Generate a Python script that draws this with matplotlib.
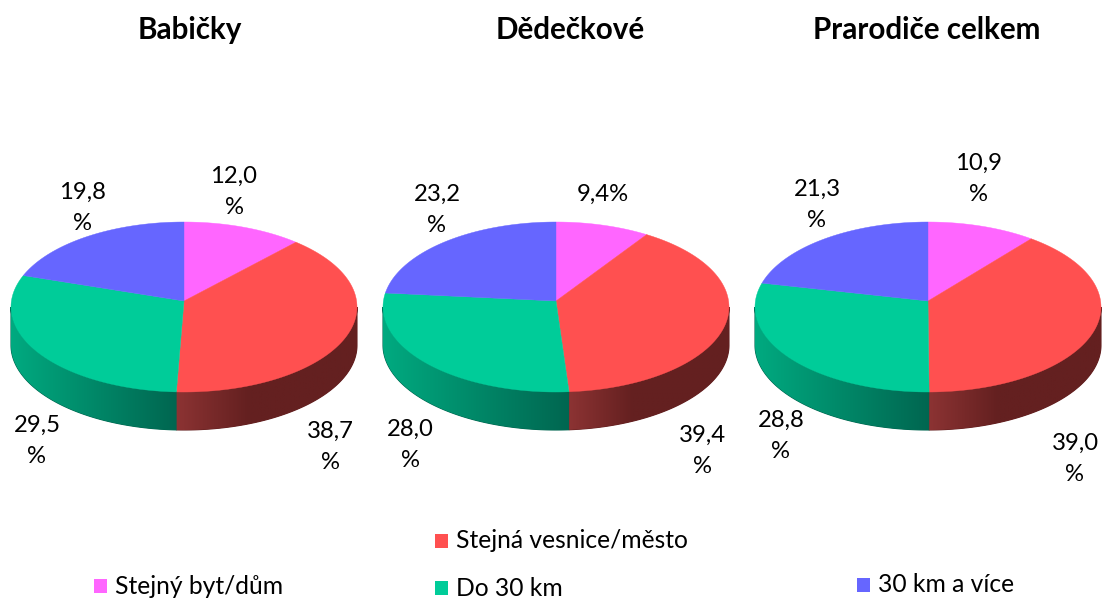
import numpy as np
from matplotlib import pyplot as plt
from matplotlib.colors import to_rgb

plt.rcParams['font.family'] = ['Lato', 'DejaVu Sans']

titles = ['Babičky', 'Dědečkové', 'Prarodiče celkem']
categories = ['Stejný byt/dům', 'Stejná vesnice/město', 'Do 30 km', '30 km a více']
babicky = [12.0, 38.7, 29.5, 19.8]
dedeckove = [9.4, 39.4, 28.0, 23.2]
prarodice = [10.9, 39.0, 28.8, 21.3]
series = [babicky, dedeckove, prarodice]
label_texts = [['12,0\n%', '38,7\n%', '29,5\n%', '19,8\n%'],
               ['9,4%', '39,4\n%', '28,0\n%', '23,2\n%'],
               ['10,9\n%', '39,0\n%', '28,8\n%', '21,3\n%']]

colors = ['#ff66ff', '#ff5050', '#00cc99', '#6666ff']
# side wall colours, left end and right end of each slice
wall_colors = {1: ('#8c3333', '#642020'), 2: ('#00aa80', '#006650')}
wall_ramp = {1: 0.4, 2: 1.0}

label_pos = [[(234, 192), (330, 447), (37, 441), (82, 208)],
             [(603, 194), (702, 451), (410, 445), (437, 210)],
             [(979, 179), (1075, 459), (781, 436), (817, 205)]]
title_x = [190, 570, 927]
centers = [184, 556, 928]
rx, ry = 173, 85
cy, apex_y, depth = 307, 301, 38


def edge(cx, a):
    # a is degrees clockwise from the top of the pie
    a = np.radians(a)
    return cx + rx * np.sin(a), cy - ry * np.cos(a)


def tilt(a):
    # the tilted view squeezes the slices a bit near the back of the pie
    d = min(a, 360 - a)
    d2 = np.interp(d, [0, 45, 90, 120, 180], [0, 42, 87, 120, 180])
    return d2 if a <= 180 else 360 - d2


fig = plt.figure(figsize=(11.02, 5.99), dpi=100)
ax = fig.add_axes([0, 0, 1, 1])
ax.axis('off')

for cx, values, texts, pos in zip(centers, series, label_texts, label_pos):
    stops = np.cumsum([0] + values) * 360 / sum(values)
    stops = [tilt(s) for s in stops]

    # side wall, only the front half of the pie shows
    for i in range(len(values)):
        lo, hi = max(stops[i], 90), min(stops[i + 1], 270)
        if lo >= hi:
            continue
        xs, ys = edge(cx, np.linspace(lo, hi, 200))
        px = np.r_[xs, xs[::-1]]
        py = np.r_[ys, ys[::-1] + depth]
        left, right = np.array(to_rgb(wall_colors[i][0])), np.array(to_rgb(wall_colors[i][1]))
        ax.fill(px, py, color=right, lw=0.8, zorder=2)
        t = np.clip(np.linspace(0, 1, 256) / wall_ramp[i], 0, 1)
        grad = (left + (right - left) * t[:, None])[None, :, :]
        im = ax.imshow(grad, extent=(xs.min(), xs.max(), py.max(), py.min()),
                       aspect='auto', zorder=2.5)
        poly = ax.fill(px, py, color='none', lw=0)[0]
        im.set_clip_path(poly)

    # top of the pie
    for i in range(len(values)):
        xs, ys = edge(cx, np.linspace(stops[i], stops[i + 1], 120))
        ax.fill(np.r_[cx, xs], np.r_[apex_y, ys], color=colors[i], lw=0.3, zorder=3)

    for t, (x, y) in zip(texts, pos):
        ax.text(x, y, t, ha='center', va='center', fontsize=17.2, color='black', linespacing=1.62)

ax.set_xlim(0, 1102)
ax.set_ylim(599, 0)

for x, t in zip(title_x, titles):
    ax.text(x, 30, t, ha='center', va='center', fontsize=21.3, fontweight='bold', color='black')

# legend is spread out in the original, so placed by hand
legend_pos = [(94, 586), (435, 541), (435, 588), (857, 585)]
for (x, y), name, c in zip(legend_pos, categories, colors):
    ax.fill([x, x + 13, x + 13, x], [y - 7, y - 7, y + 7, y + 7], color=c, lw=0)
    ax.text(x + 21, y, name, ha='left', va='center', fontsize=17.7, color='black')

fig.savefig('out.png', dpi=100)
